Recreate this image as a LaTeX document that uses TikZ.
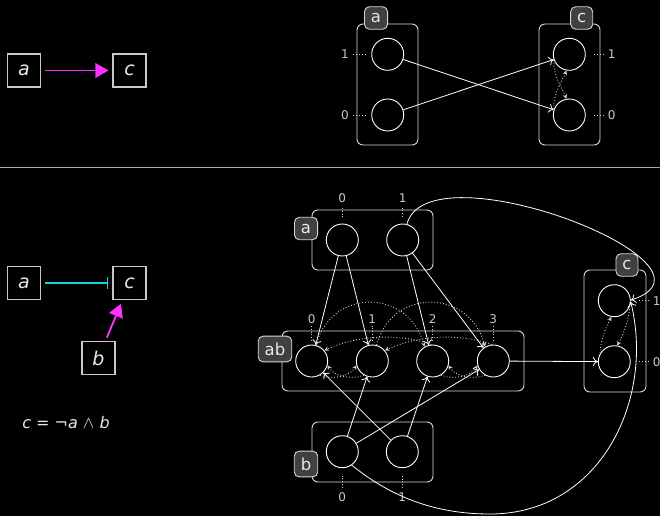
\documentclass[tikz,border=0pt]{standalone}
\usepackage{fontspec}
\setmainfont{DejaVu Sans}
\usetikzlibrary{arrows.meta}
\definecolor{txt}{HTML}{E8E8E8}
\definecolor{boxgray}{HTML}{C8C8C8}
\definecolor{grpgray}{HTML}{D8D8D8}
\definecolor{tabfill}{HTML}{404040}
\definecolor{labgray}{HTML}{C8C8C8}
\definecolor{dotgray}{HTML}{D0D0D0}
\definecolor{sepgray}{HTML}{A8A8A8}
\definecolor{mag}{HTML}{FF33FF}
\definecolor{cyn}{HTML}{11D8D8}
\begin{document}
\begin{tikzpicture}[x=1pt,y=-1pt,
  lbox/.style={draw=boxgray, line width=1.2pt, minimum size=33pt, inner sep=0pt, font=\fontsize{19}{20}\selectfont\itshape, text=txt},
  grp/.style={draw=grpgray, line width=0.9pt, rounded corners=6pt, inner sep=0pt},
  tab/.style={draw=grpgray, fill=tabfill, line width=0.9pt, rounded corners=5pt, inner sep=6.5pt, font=\fontsize{16.5}{17}\selectfont, text=txt},
  st/.style={circle, draw=white, line width=0.9pt, minimum size=32pt, inner sep=0pt},
  lab/.style={font=\fontsize{12}{13}\selectfont, text=labgray, inner sep=1pt},
  tr/.style={draw=white, line width=0.8pt, -{To[length=5pt,width=9pt]}},
  dtr/.style={draw=dotgray, line width=0.9pt, dotted, -{Stealth[length=4.5pt,width=4.5pt]}},
  dl/.style={draw=dotgray, line width=0.9pt, dotted},
  magarrow/.style={draw=mag, line width=1.8pt, -{Triangle[length=13pt,width=15pt,line width=0pt]}, shorten <=3.5pt, shorten >=4pt},
  inhib/.style={draw=cyn, line width=1.4pt, -{Bar[width=12pt,line width=1.4pt]}, shorten <=3.5pt, shorten >=4pt},
]
\fill[black] (0,0) rectangle (660,516);
\useasboundingbox (0,0) rectangle (660,516);

% separator
\coordinate (sepL) at (0,167);
\coordinate (sepR) at (660,167);
\draw[sepgray, line width=0.9pt] (sepL) -- (sepR);

% ---------- top left ----------
\node[lbox] (ta) at (24,70.5) {a};
\node[lbox] (tc) at (129.5,70.5) {c};
\draw[magarrow] (ta) -- (tc);

% ---------- top right ----------
\node[grp, minimum width=61pt, minimum height=121pt] (gA) at (387.5,84.5) {};
\node[tab] (tA) at (376,18) {a};
\node[st] (A1) at (387.7,54.3) {};
\node[st] (A0) at (387.7,115) {};
\node[lab] (lA1) at (345,54.3) {1};
\node[lab] (lA0) at (345,115) {0};
\draw[dl, shorten <=3pt, shorten >=6pt] (lA1) -- (A1);
\draw[dl, shorten <=3pt, shorten >=6pt] (lA0) -- (A0);

\node[grp, minimum width=61pt, minimum height=121pt] (gC) at (569.5,84.5) {};
\node[tab] (tC) at (581.7,18) {c};
\node[st] (C1) at (569.3,54.3) {};
\node[st] (C0) at (569.3,115) {};
\node[lab] (lC1) at (611.7,54.3) {1};
\node[lab] (lC0) at (611.7,115) {0};
\draw[dl, shorten <=3pt, shorten >=7pt] (lC1) -- (C1);
\draw[dl, shorten <=3pt, shorten >=7pt] (lC0) -- (C0);

\draw[tr] (A1) -- (C0);
\draw[tr] (A0) -- (C1);
\draw[dtr] (C0.160) .. controls +(-1,-16) and +(-4,10) .. (C1.-100);
\draw[dtr] (C1.200) .. controls +(-1,16) and +(-4,-10) .. (C0.100);

% ---------- bottom left ----------
\node[lbox] (ba) at (24,283) {a};
\node[lbox] (bc) at (129.5,283) {c};
\node[lbox] (bb) at (98.5,358) {b};
\draw[inhib] (ba) -- (bc);
\draw[magarrow] (bb) -- (bc);
\node[font=\fontsize{16}{17}\selectfont, text=txt] (eq) at (66,423) {\textit{c} = ¬\textit{a} $\wedge$ \textit{b}};

% ---------- bottom right ----------
% group a
\node[grp, minimum width=121pt, minimum height=60pt] (gBa) at (372.5,240) {};
\node[tab] (tBa) at (306,228.5) {a};
\node[st] (a0) at (342.3,240) {};
\node[st] (a1) at (402.7,240) {};
\node[lab] (la0) at (342.3,198) {0};
\node[lab] (la1) at (402.7,198) {1};
\draw[dl, shorten <=4pt, shorten >=7pt] (la0) -- (a0);
\draw[dl, shorten <=4pt, shorten >=7pt] (la1) -- (a1);

% group ab
\node[grp, minimum width=242pt, minimum height=60pt] (gAB) at (403,361) {};
\node[tab] (tAB) at (275,349) {ab};
\node[st] (ab0) at (311.7,361) {};
\node[st] (ab1) at (372.3,361) {};
\node[st] (ab2) at (432.7,361) {};
\node[st] (ab3) at (493.3,361) {};
\node[lab] (lab0) at (311.7,319) {0};
\node[lab] (lab1) at (372.3,319) {1};
\node[lab] (lab2) at (432.7,319) {2};
\node[lab] (lab3) at (493.3,319) {3};
\foreach \i in {0,1,2,3} {\draw[dl, shorten <=1pt, shorten >=2pt] (lab\i) -- (ab\i);}

% group b
\node[grp, minimum width=121pt, minimum height=60pt] (gB) at (372.5,452) {};
\node[tab] (tB) at (306,464) {b};
\node[st] (b0) at (342.3,451.7) {};
\node[st] (b1) at (402.3,451.7) {};
\node[lab] (lb0) at (342.3,496.7) {0};
\node[lab] (lb1) at (402.3,496.7) {1};
\draw[dl, shorten <=3pt, shorten >=8pt] (lb0) -- (b0);
\draw[dl, shorten <=3pt, shorten >=8pt] (lb1) -- (b1);

% group c
\node[grp, minimum width=62pt, minimum height=122pt] (gBc) at (615,331) {};
\node[tab] (tBc) at (627,265) {c};
\node[st] (c1) at (614.3,300.7) {};
\node[st] (c0) at (614.3,361.7) {};
\node[lab] (lc1) at (656.7,300.7) {1};
\node[lab] (lc0) at (656.7,361.7) {0};
\draw[dl, shorten <=3pt, shorten >=8pt] (lc1) -- (c1);
\draw[dl, shorten <=3pt, shorten >=8pt] (lc0) -- (c0);

% transitions a -> ab, b -> ab
\draw[tr] (a0) -- (ab0);
\draw[tr] (a0) -- (ab1);
\draw[tr] (a1) -- (ab2);
\draw[tr] (a1) -- (ab3);
\draw[tr] (b0) -- (ab1);
\draw[tr] (b0) -- (ab3);
\draw[tr] (b1) -- (ab0);
\draw[tr] (b1) -- (ab2);
\draw[tr] (ab3) -- (c0);
\draw[tr] (a1) .. controls (428,145) and (740,265) .. (c1.2);
\draw[tr] (b0.-55) .. controls (395,500) and (440,514) .. (490,514) .. controls (600,514) and (655,400) .. (c1.-4);

% dotted dynamics inside ab
\draw[dtr] (ab0.-60) .. controls +(14.1,5.1) and +(-6,10.4) .. (ab1.195);
\draw[dtr] (ab1.240) .. controls +(-14.1,5.1) and +(6,10.4) .. (ab0.-15);
\draw[dtr] (ab2.-60) .. controls +(14.1,5.1) and +(-6,10.4) .. (ab3.195);
\draw[dtr] (ab3.240) .. controls +(-14.1,5.1) and +(6,10.4) .. (ab2.-15);
\draw[dtr] (ab0.75) .. controls +(15.5,-58) and +(-15.5,-58) .. (ab2.120);
\draw[dtr] (ab1.75) .. controls +(15.5,-58) and +(-15.5,-58) .. (ab3.120);
\draw[dtr] (ab2.95) .. controls +(-32.9,-12) and +(31.7,-14.8) .. (ab0.40);
\draw[dtr] (ab3.95) .. controls +(-32.9,-12) and +(31.7,-14.8) .. (ab1.40);

% dotted dynamics inside c
\draw[dtr] (c0.150) .. controls +(0,-12) and +(-5,8.7) .. (c1.-100);
\draw[dtr] (c1.-20) .. controls +(0,12) and +(5,-8.7) .. (c0.80);
\end{tikzpicture}
\end{document}
